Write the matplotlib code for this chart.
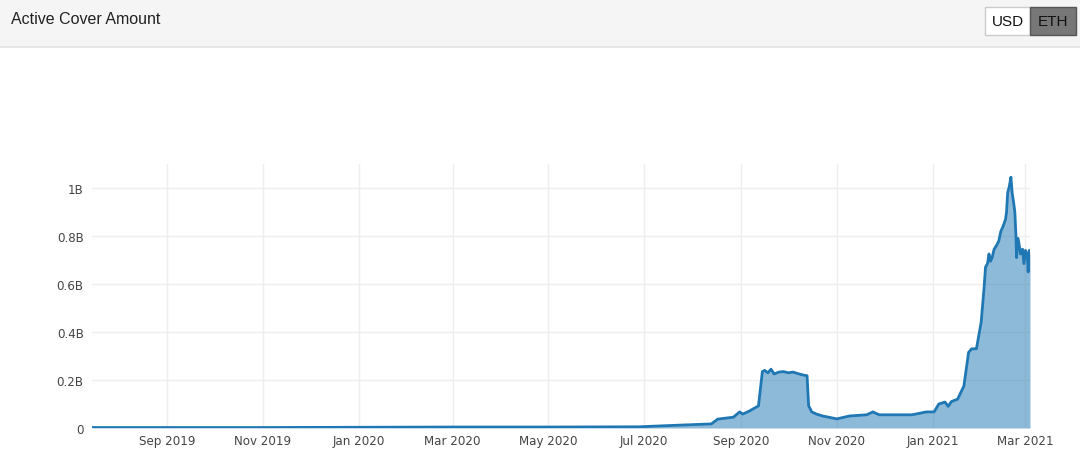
import matplotlib.pyplot as plt
import matplotlib.dates as mdates
from matplotlib.patches import Rectangle
import pandas as pd

# Active cover amount (billions)
dates = [
    "2019-07-15", "2019-09-01", "2019-11-01", "2020-01-01", "2020-03-01",
    "2020-05-01", "2020-06-28", "2020-07-05", "2020-07-24", "2020-08-13",
    "2020-08-17", "2020-08-27", "2020-08-31", "2020-09-02", "2020-09-06",
    "2020-09-12", "2020-09-14 12:00", "2020-09-16", "2020-09-18", "2020-09-20",
    "2020-09-22", "2020-09-25", "2020-09-28", "2020-10-01", "2020-10-04",
    "2020-10-08", "2020-10-11", "2020-10-13", "2020-10-14", "2020-10-16",
    "2020-10-19", "2020-10-23", "2020-11-01", "2020-11-09", "2020-11-20",
    "2020-11-24", "2020-11-28", "2020-12-11", "2020-12-19", "2020-12-28",
    "2021-01-02", "2021-01-05", "2021-01-09", "2021-01-11", "2021-01-13",
    "2021-01-17", "2021-01-21", "2021-01-24", "2021-01-26", "2021-01-29",
    "2021-02-01", "2021-02-02 22:00", "2021-02-03 19:00", "2021-02-05 02:00",
    "2021-02-06", "2021-02-07", "2021-02-08", "2021-02-09 07:00",
    "2021-02-10 19:00", "2021-02-12 07:00", "2021-02-13 14:00", "2021-02-15",
    "2021-02-16 14:00", "2021-02-17 05:00", "2021-02-17 22:00",
    "2021-02-18 22:00", "2021-02-20", "2021-02-20 19:00", "2021-02-21 17:00",
    "2021-02-22 12:00", "2021-02-23 05:00", "2021-02-23 14:00",
    "2021-02-24 14:00", "2021-02-26 05:00", "2021-02-27 10:00",
    "2021-02-28 07:00", "2021-03-01 07:00", "2021-03-02 10:00", "2021-03-03",
    "2021-03-03 17:00", "2021-03-04 04:00",
]
values = [
    0.002, 0.002, 0.002, 0.003, 0.004,
    0.004, 0.005, 0.007, 0.012, 0.017,
    0.037, 0.045, 0.067, 0.058, 0.070,
    0.092, 0.235, 0.240, 0.230, 0.245,
    0.225, 0.233, 0.235, 0.230, 0.233,
    0.225, 0.220, 0.218, 0.093, 0.067,
    0.058, 0.050, 0.038, 0.050, 0.055,
    0.067, 0.055, 0.055, 0.055, 0.067,
    0.067, 0.100, 0.108, 0.090, 0.110,
    0.120, 0.175, 0.315, 0.330, 0.330,
    0.440, 0.587, 0.670, 0.685,
    0.725, 0.695, 0.710, 0.745,
    0.760, 0.780, 0.820, 0.840,
    0.870, 0.900, 0.980,
    1.005, 1.045, 0.980, 0.940,
    0.900, 0.800, 0.710,
    0.790, 0.725, 0.745,
    0.685, 0.740, 0.720, 0.650,
    0.740, 0.720,
]

x = pd.to_datetime(dates, format="mixed")

fig = plt.figure(figsize=(10.8, 4.56), dpi=100)

# header band
fig.patches.append(Rectangle((0, 1 - 47 / 456), 1, 47 / 456, transform=fig.transFigure,
                             facecolor="#f5f5f5", edgecolor="none", zorder=0))
fig.lines.append(plt.Line2D([0, 1], [1 - 47.5 / 456] * 2, transform=fig.transFigure,
                            color="#e2e2e2", lw=1.2))
fig.text(11 / 1080, 1 - 19 / 456, "Active Cover Amount", fontsize=11.5,
         family="Liberation Sans", color="#222222", va="center", ha="left")

# USD / ETH toggle
fig.patches.append(Rectangle((985 / 1080, 1 - 36 / 456), 45 / 1080, 28 / 456,
                             transform=fig.transFigure, facecolor="white",
                             edgecolor="#cccccc", lw=1))
fig.patches.append(Rectangle((1030 / 1080, 1 - 36 / 456), 46 / 1080, 28 / 456,
                             transform=fig.transFigure, facecolor="#777777",
                             edgecolor="#555555", lw=1))
fig.text(1007.5 / 1080, 1 - 22 / 456, "USD", fontsize=11, family="Liberation Sans",
         color="#111111", ha="center", va="center")
fig.text(1053 / 1080, 1 - 22 / 456, "ETH", fontsize=11, family="Liberation Sans",
         color="#111111", ha="center", va="center")

ax = fig.add_axes([92 / 1080, 27 / 456, 938 / 1080, 264 / 456])
ax.fill_between(x, values, 0, color="#1f77b4", alpha=0.5, lw=0)
ax.plot(x, values, color="#1f77b4", lw=2)

ax.set_xlim(pd.Timestamp("2019-07-15"), pd.Timestamp("2021-03-04 04:00"))
ax.set_ylim(0, 1.1)
ax.xaxis.set_major_locator(mdates.MonthLocator(bymonth=[1, 3, 5, 7, 9, 11]))
ax.xaxis.set_major_formatter(mdates.DateFormatter("%b %Y"))
ax.set_yticks([0, 0.2, 0.4, 0.6, 0.8, 1.0])
ax.set_yticklabels(["0", "0.2B", "0.4B", "0.6B", "0.8B", "1B"])

ax.grid(True, color="#eeeeee", lw=1)
ax.set_axisbelow(True)
for s in ax.spines.values():
    s.set_visible(False)
ax.tick_params(length=0, labelsize=8.6, colors="#444444", pad=4)
ax.tick_params(axis="y", pad=6)

plt.savefig("out.png", dpi=100)
